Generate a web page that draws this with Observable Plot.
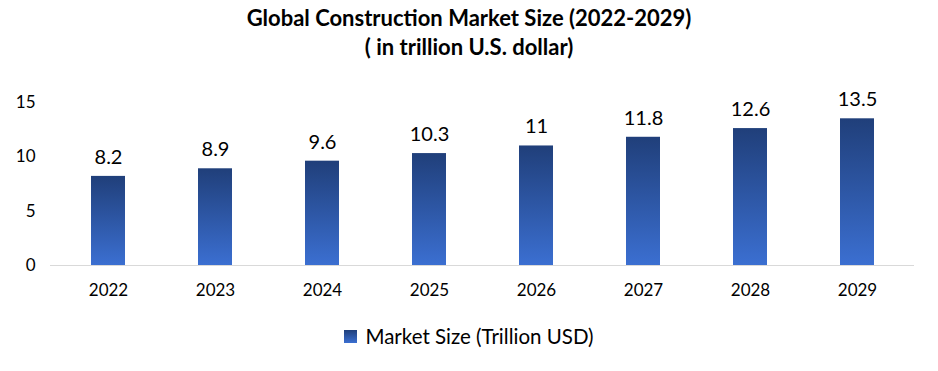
<!DOCTYPE html>
<html><head><meta charset="utf-8">
<script src="https://cdn.jsdelivr.net/npm/d3@7"></script>
<script src="https://cdn.jsdelivr.net/npm/@observablehq/plot@0.6"></script>
<style>
body{margin:0;background:#fff;font-family:Lato,"Open Sans",sans-serif;}
#title{width:938px;height:66px;text-align:center;font-weight:bold;font-size:22px;line-height:29px;color:#000;padding-top:3px;box-sizing:border-box;}
#legend{width:938px;height:40px;display:flex;justify-content:center;align-items:center;font-size:20.5px;color:#000;}
#legend .sw{width:13px;height:13px;background:linear-gradient(#203f7a,#3b6fd1);margin-right:8px;}
</style></head>
<body>
<div id="title">Global Construction Market Size (2022-2029)<br>( in trillion U.S. dollar)</div>
<div id="chart"></div>
<div id="legend"><span class="sw"></span><span>Market Size (Trillion USD)</span></div>
<script>
const years = ["2022","2023","2024","2025","2026","2027","2028","2029"];
const values = [8.2, 8.9, 9.6, 10.3, 11, 11.8, 12.6, 13.5];
const yTicks = [0, 5, 10, 15];
const data = years.map((y, i) => ({year: y, value: values[i]}));

const chart = Plot.plot({
  width: 938,
  height: 250,
  marginTop: 36,
  marginBottom: 51,
  marginLeft: 50,
  marginRight: 24,
  style: {fontFamily: "Lato, 'Open Sans', sans-serif", background: "#fff"},
  x: {domain: years, paddingInner: 0.685, paddingOuter: 0.343, align: 0.5, label: null, tickSize: 0, tickPadding: 18},
  y: {domain: [0, 15], ticks: yTicks, label: null, tickSize: 0, tickPadding: 15},
  marks: [
    () => {
      const svg = d3.create("svg:defs");
      const g = svg.append("linearGradient").attr("id", "barGrad").attr("x1", 0).attr("y1", 0).attr("x2", 0).attr("y2", 1);
      g.append("stop").attr("offset", "0%").attr("stop-color", "#203f7a");
      g.append("stop").attr("offset", "100%").attr("stop-color", "#3b6fd1");
      return svg.node();
    },
    Plot.barY(data, {x: "year", y: "value", fill: "url(#barGrad)"}),
    Plot.ruleY([0], {stroke: "#d9d9d9", strokeWidth: 1}),
    Plot.text(data, {x: "year", y: "value", text: d => String(d.value), dy: -19, fontSize: 20, fill: "#000"}),
    Plot.axisX({tickSize: 0, tickPadding: 18, fontSize: 17, label: null, fill: "#000"}),
    Plot.axisY({ticks: yTicks, tickSize: 0, tickPadding: 15, fontSize: 17, label: null, fill: "#000"})
  ]
});
document.getElementById("chart").appendChild(chart);
</script>
</body></html>
